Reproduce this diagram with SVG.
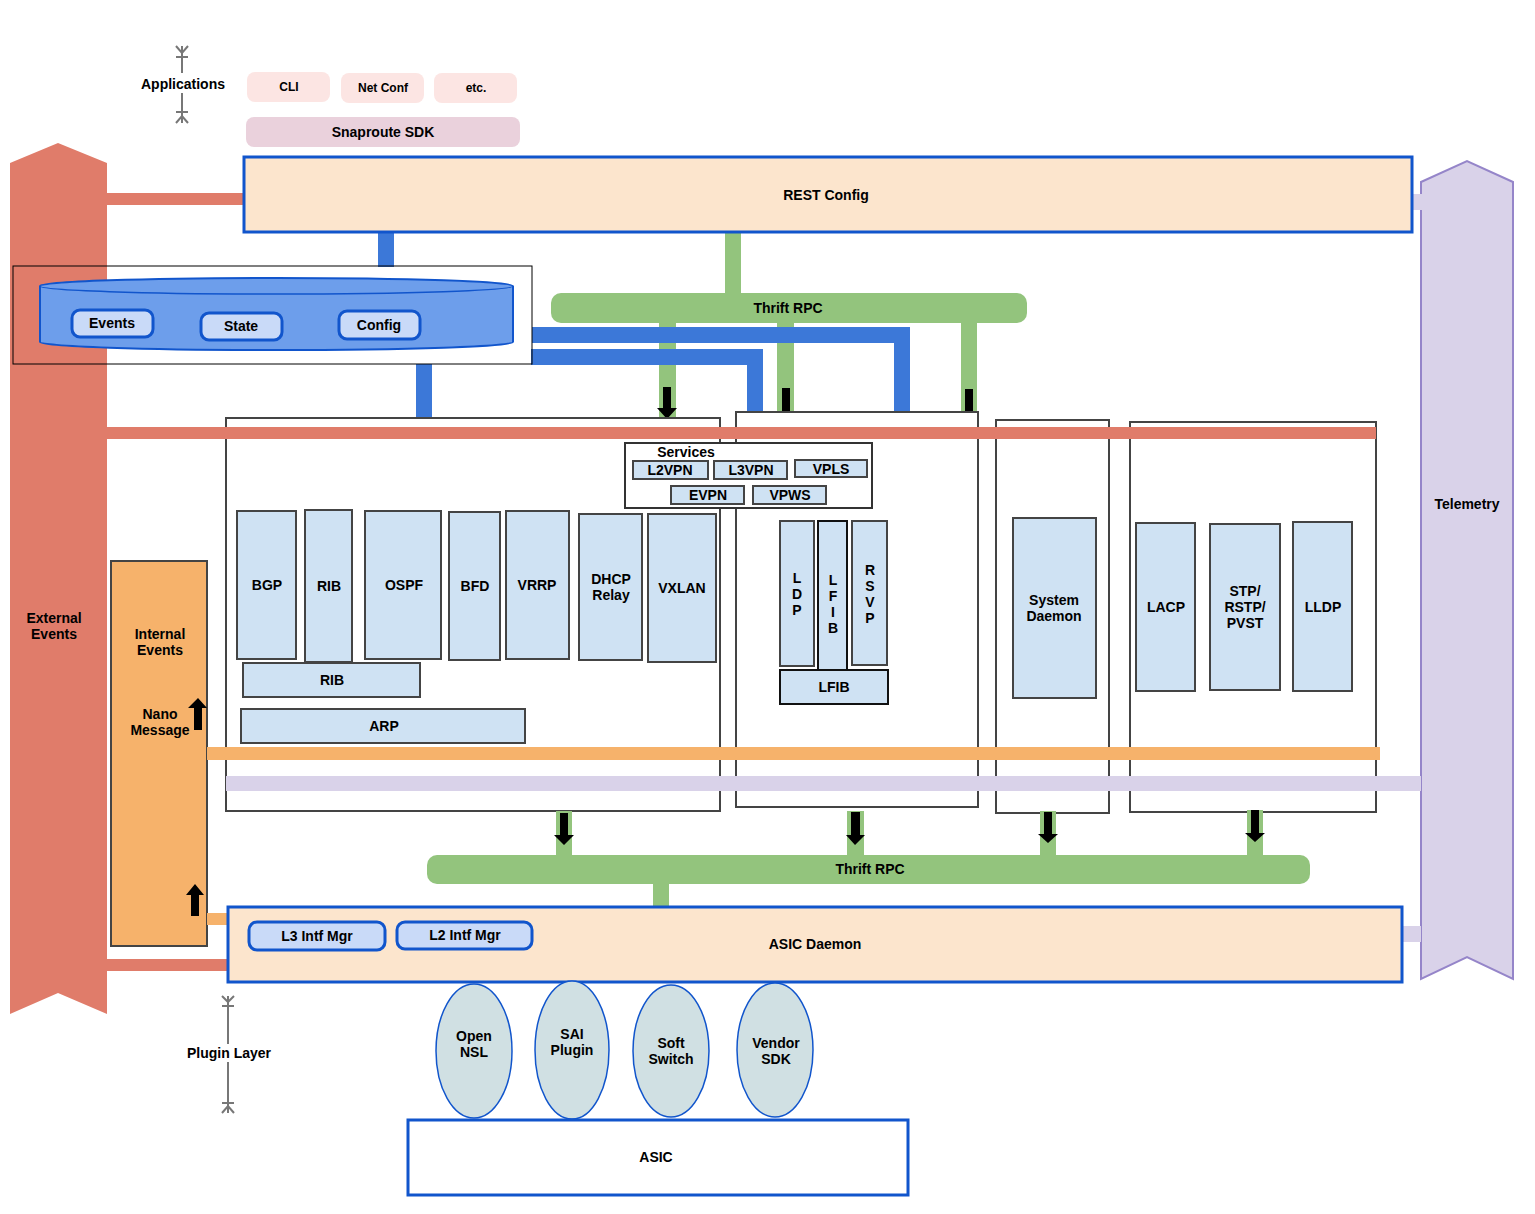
<svg xmlns="http://www.w3.org/2000/svg" width="1535" height="1214" viewBox="0 0 1535 1214">
<style>
text{font-family:"Liberation Sans",Arial,sans-serif;font-weight:bold;font-size:14px;fill:#000;text-anchor:middle;dominant-baseline:central}
.sm{font-size:12px}
.proto{fill:#CFE2F3;stroke:#444;stroke-width:2}
.dark{fill:#CFE2F3;stroke:#111;stroke-width:2}
.grp{fill:#fff;stroke:#444;stroke-width:2}
.pill{fill:#C9DAF8;stroke:#1155CC;stroke-width:3}
.cfg{fill:#FCE5CD;stroke:#1155CC;stroke-width:3}
.thrift{fill:#93C47D}
.plug{fill:#D0E0E3;stroke:#1155CC;stroke-width:1.5}
.meas{stroke:#777;stroke-width:2;fill:none}
</style>

<!-- big side arrows -->
<g id="external-events">
<polygon points="10,163 58,143 107,163 107,1014 58,993 10,1014" fill="#E07C6A"/>
<text x="54" y="618">External</text><text x="54" y="634">Events</text>
</g>
<g id="telemetry">
<polygon points="1421,182 1467,161 1513,182 1513,979 1467,957 1421,979" fill="#D9D2E9" stroke="#9585C9" stroke-width="2"/>
<text x="1467" y="504">Telemetry</text>
</g>

<!-- Applications -->
<g id="applications-label">
<path class="meas" d="M182,46V73M182,93V123M176,57H188M176,112H188M176,46L182,53L188,46M176,123L182,116L188,123"/>
<text x="183" y="84">Applications</text>
</g>
<g id="cli"><rect x="247" y="72" width="83" height="30" rx="8" fill="#FCE5E3"/><text class="sm" x="289" y="87">CLI</text></g>
<g id="netconf"><rect x="341" y="73" width="83" height="30" rx="8" fill="#FCE5E3"/><text class="sm" x="383" y="88">Net Conf</text></g>
<g id="etc"><rect x="434" y="73" width="83" height="30" rx="8" fill="#FCE5E3"/><text class="sm" x="476" y="88">etc.</text></g>
<g id="snaproute-sdk"><rect x="246" y="117" width="274" height="30" rx="8" fill="#EAD1DC"/><text x="383" y="132">Snaproute SDK</text></g>

<!-- connectors -->
<g id="connectors">
<rect x="107" y="193" width="138" height="12" fill="#E07C6A"/>
<rect x="1408" y="194" width="14" height="16" fill="#D9D2E9"/>
<rect x="378" y="232" width="16" height="35" fill="#3C78D8"/>
<rect x="725" y="232" width="16" height="63" class="thrift"/>
<rect x="659" y="322" width="17" height="97" class="thrift"/>
<rect x="777" y="322" width="17" height="91" class="thrift"/>
<rect x="961" y="322" width="16" height="91" class="thrift"/>
<path d="M532,327H910V412H894V343H532Z" fill="#3C78D8"/>
<path d="M531,349H763V412H747V365H531Z" fill="#3C78D8"/>
<rect x="416" y="364" width="16" height="55" fill="#3C78D8"/>
<path d="M663,387H671V408H677L667,419L657,408H663Z" fill="#000"/>
<rect x="782" y="388" width="8" height="25" fill="#000"/>
<rect x="965" y="389" width="8" height="24" fill="#000"/>
</g>

<!-- REST Config -->
<g id="rest-config"><rect x="244" y="157" width="1168" height="75" class="cfg"/><text x="826" y="195">REST Config</text></g>

<!-- Thrift top -->
<g id="thrift-rpc-top"><rect x="551" y="293" width="476" height="30" rx="10" class="thrift"/><text x="788" y="308">Thrift RPC</text></g>

<!-- DB -->
<g id="database">
<rect x="13" y="266" width="519" height="98" fill="none" stroke="#000" stroke-width="1"/>
<path d="M40,286A236.5,8 0 0 1 513,286V342A236.5,8 0 0 1 40,342Z" fill="#6D9EEB" stroke="#1155CC" stroke-width="2"/>
<path d="M40,286A236.5,8 0 0 0 513,286" fill="none" stroke="#1155CC" stroke-width="1.5"/>
</g>
<g id="events"><rect x="72" y="310" width="81" height="27" rx="8" class="pill"/><text x="112" y="323">Events</text></g>
<g id="state"><rect x="201" y="313" width="81" height="27" rx="8" class="pill"/><text x="241" y="326">State</text></g>
<g id="config"><rect x="339" y="311" width="81" height="28" rx="8" class="pill"/><text x="379" y="325">Config</text></g>

<!-- group boxes -->
<g id="group-a"><rect x="226" y="418" width="494" height="393" class="grp"/></g>
<g id="group-b"><rect x="736" y="412" width="242" height="395" class="grp"/></g>
<g id="group-c"><rect x="996" y="420" width="113" height="393" class="grp"/></g>
<g id="group-d"><rect x="1130" y="422" width="246" height="390" class="grp"/></g>

<g id="services">
<rect x="625" y="443" width="247" height="65" fill="#fff" stroke="#333" stroke-width="2"/>
<text x="686" y="452">Services</text>
<rect x="633" y="461" width="75" height="18" class="proto"/><text x="670" y="470">L2VPN</text>
<rect x="714" y="461" width="73" height="18" class="proto"/><text x="751" y="470">L3VPN</text>
<rect x="795" y="460" width="72" height="17" class="proto"/><text x="831" y="469">VPLS</text>
<rect x="671" y="486" width="73" height="18" class="proto"/><text x="708" y="495">EVPN</text>
<rect x="753" y="486" width="73" height="18" class="proto"/><text x="790" y="495">VPWS</text>
</g>

<g id="bgp"><rect x="237" y="511" width="59" height="148" class="proto"/><text x="267" y="585">BGP</text></g>
<g id="rib"><rect x="305" y="510" width="47" height="152" class="proto"/><text x="329" y="586">RIB</text></g>
<g id="ospf"><rect x="365" y="511" width="76" height="148" class="proto"/><text x="404" y="585">OSPF</text></g>
<g id="bfd"><rect x="449" y="512" width="51" height="148" class="proto"/><text x="475" y="586">BFD</text></g>
<g id="vrrp"><rect x="506" y="511" width="63" height="148" class="proto"/><text x="537" y="585">VRRP</text></g>
<g id="dhcp-relay"><rect x="579" y="514" width="63" height="146" class="proto"/><text x="611" y="579">DHCP</text><text x="611" y="595">Relay</text></g>
<g id="vxlan"><rect x="648" y="514" width="68" height="148" class="proto"/><text x="682" y="588">VXLAN</text></g>
<g id="rib-table"><rect x="243" y="663" width="177" height="34" class="proto"/><text x="332" y="680">RIB</text></g>
<g id="arp"><rect x="241" y="709" width="284" height="34" class="proto"/><text x="384" y="726">ARP</text></g>

<g id="ldp"><rect x="780" y="521" width="34" height="145" class="proto"/><text x="797" y="578">L</text><text x="797" y="594">D</text><text x="797" y="610">P</text></g>
<g id="lfib-v"><rect x="818" y="521" width="29" height="149" class="dark"/><text x="833" y="580">L</text><text x="833" y="596">F</text><text x="833" y="612">I</text><text x="833" y="628">B</text></g>
<g id="rsvp"><rect x="852" y="521" width="35" height="144" class="proto"/><text x="870" y="570">R</text><text x="870" y="586">S</text><text x="870" y="602">V</text><text x="870" y="618">P</text></g>
<g id="lfib"><rect x="780" y="670" width="108" height="34" class="dark"/><text x="834" y="687">LFIB</text></g>

<g id="system-daemon"><rect x="1013" y="518" width="83" height="180" class="proto"/><text x="1054" y="600">System</text><text x="1054" y="616">Daemon</text></g>
<g id="lacp"><rect x="1136" y="523" width="59" height="168" class="proto"/><text x="1166" y="607">LACP</text></g>
<g id="stp"><rect x="1210" y="524" width="70" height="166" class="proto"/><text x="1245" y="591">STP/</text><text x="1245" y="607">RSTP/</text><text x="1245" y="623">PVST</text></g>
<g id="lldp"><rect x="1293" y="522" width="59" height="169" class="proto"/><text x="1323" y="607">LLDP</text></g>

<!-- internal events -->
<g id="internal-events">
<rect x="111" y="561" width="96" height="385" fill="#F6B26B" stroke="#444" stroke-width="2"/>
<text x="160" y="634">Internal</text><text x="160" y="650">Events</text>
<text x="160" y="714">Nano</text><text x="160" y="730">Message</text>
<path d="M194,730V708H188L198,698L207,708H202V730Z" fill="#000"/>
<path d="M191,916V895H186L195,884L204,895H199V916Z" fill="#000"/>
</g>

<!-- bus lines -->
<g id="bus-lines">
<rect x="107" y="427" width="1269" height="12" fill="#E07C6A"/>
<rect x="207" y="747" width="1173" height="13" fill="#F6B26B"/>
<rect x="226" y="776" width="1195" height="15" fill="#D9D2E9"/>
<rect x="207" y="913" width="21" height="12" fill="#F6B26B"/>
<rect x="107" y="959" width="121" height="12" fill="#E07C6A"/>
<rect x="1400" y="926" width="21" height="16" fill="#D9D2E9"/>
<rect x="556" y="811" width="16" height="45" class="thrift"/>
<rect x="847" y="811" width="17" height="45" class="thrift"/>
<rect x="1040" y="811" width="16" height="45" class="thrift"/>
<rect x="1247" y="810" width="16" height="46" class="thrift"/>
<rect x="653" y="883" width="16" height="25" class="thrift"/>
<path d="M560,813H568V835H574L564,845L554,835H560Z" fill="#000"/>
<path d="M851,812H860V835H865L855,845L846,835H851Z" fill="#000"/>
<path d="M1044,812H1052V834H1058L1048,843L1038,834H1044Z" fill="#000"/>
<path d="M1251,810H1259V833H1265L1255,842L1245,833H1251Z" fill="#000"/>
</g>

<g id="thrift-rpc-bottom"><rect x="427" y="855" width="883" height="29" rx="10" class="thrift"/><text x="870" y="869">Thrift RPC</text></g>

<g id="asic-daemon"><rect x="228" y="907" width="1174" height="75" class="cfg"/><text x="815" y="944">ASIC Daemon</text></g>
<g id="l3-intf-mgr"><rect x="249" y="922" width="136" height="28" rx="8" class="pill"/><text x="317" y="936">L3 Intf Mgr</text></g>
<g id="l2-intf-mgr"><rect x="397" y="922" width="135" height="27" rx="8" class="pill"/><text x="465" y="935">L2 Intf Mgr</text></g>

<g id="plugin-layer-label">
<path class="meas" d="M228,996V1044M228,1062V1113M222,1006H234M222,1103H234M222,996L228,1002L234,996M222,1113L228,1106L234,1113"/>
<text x="229" y="1053">Plugin Layer</text>
</g>
<g id="open-nsl"><ellipse cx="474" cy="1051" rx="38" ry="67" class="plug"/><text x="474" y="1036">Open</text><text x="474" y="1052">NSL</text></g>
<g id="sai-plugin"><ellipse cx="572" cy="1050" rx="37" ry="69" class="plug"/><text x="572" y="1034">SAI</text><text x="572" y="1050">Plugin</text></g>
<g id="soft-switch"><ellipse cx="671" cy="1051" rx="38" ry="66" class="plug"/><text x="671" y="1043">Soft</text><text x="671" y="1059">Switch</text></g>
<g id="vendor-sdk"><ellipse cx="775" cy="1050" rx="38" ry="67" class="plug"/><text x="776" y="1043">Vendor</text><text x="776" y="1059">SDK</text></g>

<g id="asic"><rect x="408" y="1120" width="500" height="75" fill="#fff" stroke="#1155CC" stroke-width="3"/><text x="656" y="1157">ASIC</text></g>
</svg>
